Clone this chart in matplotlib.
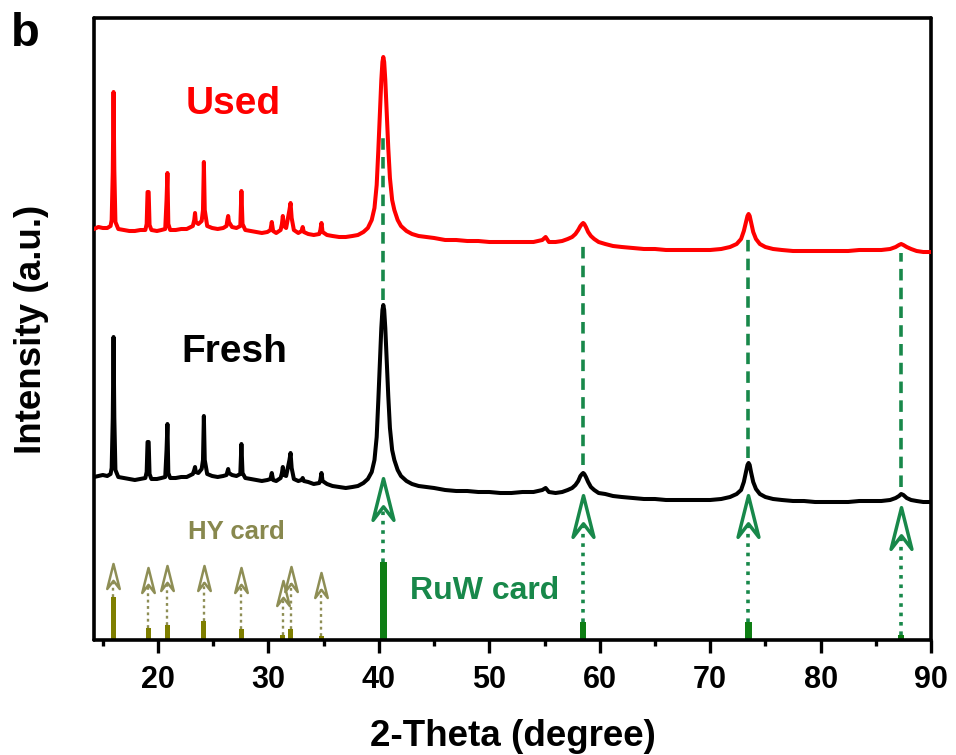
import numpy as np
import matplotlib
matplotlib.use('Agg')
import matplotlib.pyplot as plt
from matplotlib.path import Path

plt.rcParams['font.family'] = ['Liberation Sans', 'DejaVu Sans']
plt.rcParams['font.weight'] = 'bold'

# 2-theta sampling points
two_theta = [14.2, 14.6, 15.0, 15.4, 15.7, 15.8, 15.9, 15.97, 16.04, 16.14,
             16.4, 16.9, 17.4, 17.9, 18.4, 18.85, 18.97, 19.05, 19.15, 19.23,
             19.4, 19.9, 20.3, 20.65, 20.77, 20.85, 20.93, 21.1, 21.6, 22.1,
             22.6, 23.15, 23.28, 23.35, 23.42, 23.65, 23.95, 24.07, 24.15, 24.23,
             24.45, 24.9, 25.4, 25.9, 26.2, 26.28, 26.35, 26.42, 26.7, 27.1,
             27.45, 27.55, 27.65, 27.9, 28.4, 28.9, 29.4, 29.9, 30.18, 30.3,
             30.42, 30.7, 31.1, 31.22, 31.3, 31.4, 31.6, 31.9, 32.0, 32.1,
             32.3, 32.7, 33.0, 33.1, 33.2, 33.6, 34.1, 34.6, 34.7, 34.8,
             34.9, 35.3, 35.8, 36.4, 37.0, 37.6, 38.1, 38.6, 39.0, 39.35,
             39.6, 39.8, 39.95, 40.1, 40.22, 40.32, 40.4, 40.48, 40.58, 40.7,
             40.85, 41.0, 41.2, 41.4, 41.7, 42.0, 42.5, 43.0, 43.6, 44.3,
             45.0, 46.0, 47.0, 48.0, 49.0, 50.0, 51.0, 52.0, 53.0, 54.0,
             54.8, 55.1, 55.4, 56.0, 56.6, 57.1, 57.5, 57.8, 58.05, 58.25,
             58.4, 58.5, 58.6, 58.75, 58.95, 59.2, 59.5, 59.9, 60.5, 61.2,
             62.0, 63.0, 64.0, 65.0, 66.0, 67.0, 68.0, 69.0, 70.0, 71.0,
             71.8, 72.4, 72.8, 73.05, 73.25, 73.38, 73.48, 73.58, 73.7, 73.9,
             74.15, 74.5, 75.0, 75.7, 76.5, 77.5, 78.5, 79.5, 80.5, 81.5,
             82.5, 83.5, 84.5, 85.5, 86.3, 86.8, 87.1, 87.3, 87.5, 87.8,
             88.2, 88.7, 89.3, 90.0]

used = [411, 413, 412, 412, 414, 420, 468, 548, 470, 418,
        411, 410, 409, 409, 410, 410, 416, 448, 448, 415,
        410, 409, 410, 411, 440, 467, 416, 410, 410, 411,
        411, 414, 420, 427, 418, 416, 419, 430, 478, 430,
        414, 412, 411, 412, 414, 420, 424, 418, 413, 412,
        414, 449, 416, 410, 409, 408, 407, 408, 410, 418,
        409, 407, 410, 416, 424, 414, 412, 430, 437, 422,
        410, 407, 409, 413, 408, 406, 405, 406, 410, 417,
        408, 405, 404, 403, 403, 404, 405, 408, 412, 420,
        432, 455, 490, 530, 560, 578, 583, 578, 560, 530,
        492, 462, 440, 430, 420, 414, 409, 406, 404, 403,
        402, 400, 400, 399, 399, 398, 398, 398, 398, 398,
        400, 403, 398, 398, 399, 401, 403, 406, 410, 414,
        416, 417, 416, 413, 408, 404, 401, 398, 396, 394,
        393, 392, 391, 391, 390, 390, 390, 390, 390, 391,
        393, 396, 401, 409, 418, 424, 426, 424, 418, 408,
        401, 396, 393, 391, 390, 389, 389, 389, 389, 389,
        389, 390, 390, 390, 391, 393, 395, 396, 395, 393,
        391, 389, 388, 388]

fresh = [163, 164, 165, 164, 166, 172, 222, 303, 222, 170,
         163, 162, 161, 160, 161, 162, 168, 198, 198, 166,
         161, 161, 162, 163, 190, 216, 167, 162, 162, 163,
         163, 166, 170, 173, 168, 167, 171, 180, 224, 180,
         166, 164, 163, 164, 165, 168, 171, 167, 165, 164,
         166, 196, 167, 162, 161, 160, 159, 160, 161, 167,
         160, 159, 162, 167, 173, 165, 164, 180, 187, 172,
         161, 159, 160, 162, 159, 158, 156, 157, 160, 167,
         159, 156, 154, 153, 152, 153, 154, 157, 161, 168,
         180, 203, 240, 280, 312, 330, 335, 330, 312, 282,
         244, 212, 190, 180, 170, 164, 159, 156, 154, 153,
         152, 150, 149, 149, 148, 148, 147, 147, 148, 148,
         150, 152, 148, 147, 148, 150, 152, 155, 159, 164,
         166, 167, 166, 163, 158, 153, 150, 147, 146, 144,
         143, 142, 141, 141, 140, 140, 140, 140, 140, 141,
         143, 146, 150, 158, 168, 175, 177, 175, 168, 158,
         151, 146, 143, 141, 140, 139, 139, 138, 138, 138,
         138, 139, 139, 139, 140, 142, 144, 146, 145, 142,
         140, 139, 138, 138]

# reference cards
hy_pos = [15.95, 19.1, 20.85, 24.15, 27.55, 31.3, 32.0, 34.8]
hy_int = [43, 12, 15, 19, 11, 5, 11, 4]
hy_tip = [77, 73, 75, 75, 73, 60, 74, 68]

ruw_pos = [40.4, 58.5, 73.45, 87.3]
ruw_int = [78, 18, 18, 5]
ruw_tip = [162, 145, 145, 133]
ruw_dash_top = [505, 400, 403, 387]
ruw_dash_bot = [340, 175, 182, 153]

red = '#FF0000'
green_line = '#18884A'
green_bar = '#0E7E14'
olive_bar = '#7F7F00'
olive_arrow = '#8E8E55'
olive_text = '#88884E'

# open notched arrow head
head = Path([(0, 1), (0.5, -1), (0, -0.35), (-0.5, -1), (0, 1)],
            [Path.MOVETO, Path.LINETO, Path.LINETO, Path.LINETO, Path.CLOSEPOLY])

fig = plt.figure(figsize=(9.56, 7.55), dpi=100)
ax = fig.add_axes([94 / 956, 1 - 640 / 755, 837 / 956, 622 / 755])

ax.plot(two_theta, used, color=red, lw=2.9, zorder=3)
ax.plot(two_theta, fresh, color='black', lw=2.9, zorder=3)

# HY card
ax.bar(hy_pos, hy_int, width=0.45, color=olive_bar, zorder=2)
hy_h = 25
for p, h, t in zip(hy_pos, hy_int, hy_tip):
    c = t - hy_h / 2
    ax.plot([p, p], [h, c - 0.35 * hy_h / 2], color=olive_arrow, lw=1.7, ls=(0, (1.2, 1.5)), zorder=2)
    ax.plot([p], [c], marker=head, ms=18, mfc='none', mec=olive_arrow, mew=1.8, zorder=2)

# RuW card
ax.bar(ruw_pos, ruw_int, width=0.6, color=green_bar, zorder=2)
ruw_h = 42
for p, h, t, dt, db in zip(ruw_pos, ruw_int, ruw_tip, ruw_dash_top, ruw_dash_bot):
    c = t - ruw_h / 2
    ax.plot([p, p], [h, c - 0.35 * ruw_h / 2], color=green_line, lw=2.6, ls=(0, (1.0, 1.6)), zorder=2)
    ax.plot([p], [c], marker=head, ms=30, mfc='none', mec=green_line, mew=2.5, zorder=2)
    ax.plot([p, p], [db, dt], color=green_line, lw=2.6, ls=(0, (3.2, 2.0)), zorder=2)

ax.text(26.8, 536, 'Used', color=red, fontsize=28, fontweight='bold', ha='center', va='center')
ax.text(26.95, 288, 'Fresh', color='black', fontsize=28, fontweight='bold', ha='center', va='center')
ax.text(27.05, 108, 'HY card', color=olive_text, fontsize=18.5, fontweight='bold', ha='center', va='center')
ax.text(49.6, 49, 'RuW card', color=green_line, fontsize=23, fontweight='bold', ha='center', va='center')

ax.set_xlim(14.2, 90)
ax.set_ylim(0, 622)
ax.set_xticks(range(20, 91, 10))
ax.set_xticks(np.arange(15, 90, 10), minor=True)
ax.set_yticks([])
ax.tick_params(axis='x', which='major', direction='out', length=9, width=2.4, labelsize=22, pad=9)
ax.tick_params(axis='x', which='minor', direction='out', length=4.5, width=2.4)
for s in ax.spines.values():
    s.set_linewidth(2.6)
    s.set_capstyle('round')

ax.set_xlabel('2-Theta (degree)', fontsize=26.5, fontweight='bold')
ax.xaxis.set_label_coords(0.5, (640 - 737) / 622)
ax.xaxis.label.set_va('center')
ax.set_ylabel('Intensity (a.u.)', fontsize=26.5, fontweight='bold')
ax.yaxis.set_label_coords((32 - 94) / 837, 0.5)
ax.yaxis.label.set_va('center')

fig.text(25 / 956, 1 - 34 / 755, 'b', fontsize=34, fontweight='bold', ha='center', va='center')

fig.savefig('out.png', dpi=100)
